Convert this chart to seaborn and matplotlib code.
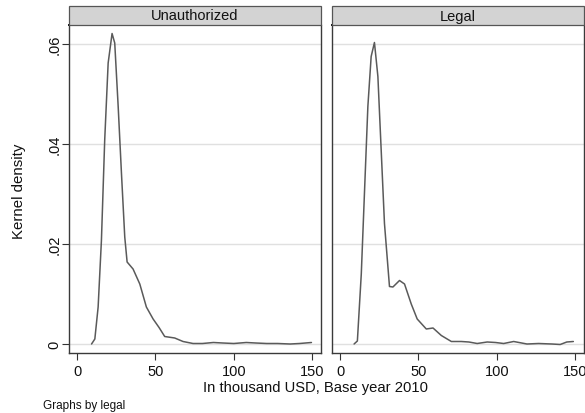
import numpy as np
import pandas as pd
import matplotlib
matplotlib.use("Agg")
import matplotlib.pyplot as plt
import seaborn as sns
from matplotlib.patches import Rectangle

# ---- data ----
panels = ["Unauthorized", "Legal"]

unauth_x = [9.2, 11.3, 13.4, 15.5, 17.6, 19.8, 22.3, 24.0, 26.2, 28.3, 30.4, 31.9,
            35.7, 40.0, 44.2, 48.5, 52.3, 55.9, 62.3, 67.6, 74, 80, 87, 93, 100,
            108, 114, 121, 128, 136, 142, 149.6]
unauth_y = [0.0000, 0.0010, 0.0074, 0.0207, 0.0408, 0.0562, 0.0621, 0.0602, 0.0475,
            0.0341, 0.0214, 0.0164, 0.0150, 0.0120, 0.0074, 0.0050, 0.0033, 0.0015,
            0.0012, 0.0005, 0.0001, 0.0001, 0.0003, 0.0002, 0.0001, 0.0003, 0.0002,
            0.0001, 0.0001, 0.0000, 0.0001, 0.0003]

legal_x = [8.9, 11.0, 13.5, 15.6, 17.7, 19.8, 21.9, 24.1, 26.2, 28.3, 31.5, 33.7,
           37.9, 41.1, 45.4, 49.2, 55.0, 59.3, 64.6, 71.0, 77.3, 82.2, 87.5, 93.9,
           99.2, 104.4, 110.8, 119.3, 126.7, 135.2, 140.5, 144.7, 148.9]
legal_y = [0.0000, 0.0006, 0.0140, 0.0308, 0.0475, 0.0575, 0.0603, 0.0535, 0.0388,
           0.0241, 0.0115, 0.0114, 0.0127, 0.0120, 0.0080, 0.0050, 0.0030, 0.0032,
           0.0017, 0.0005, 0.0005, 0.0004, 0.0001, 0.0004, 0.0003, 0.0001, 0.0005,
           0.0000, 0.0001, 0.0000, -0.0001, 0.0004, 0.0005]

x_ticks = [0, 50, 100, 150]
y_ticks = [0, 0.02, 0.04, 0.06]
y_ticklabels = ["0", ".02", ".04", ".06"]

df = pd.DataFrame({
    "income": unauth_x + legal_x,
    "density": unauth_y + legal_y,
    "legal": ["Unauthorized"] * len(unauth_x) + ["Legal"] * len(legal_x),
})

sns.set_theme(style="white")
plt.rcParams["font.family"] = ["Liberation Sans", "DejaVu Sans"]

g = sns.FacetGrid(df, col="legal", col_order=panels, sharex=True, sharey=True,
                  height=3.3, aspect=0.8, despine=False)
g.map_dataframe(sns.lineplot, x="income", y="density", color="#5a5a5a",
                linewidth=1.1, estimator=None, sort=False)

fig = g.figure
fig.set_size_inches(5.85, 4.14)
fig.subplots_adjust(left=69/585, right=584/585, bottom=1-354/414, top=1-26/414,
                    wspace=11/252)

ax_h_px = 354 - 26
for ax, name in zip(g.axes.flat, panels):
    ax.set_xlim(-5.2, 155.7)
    ax.set_ylim(-0.0018, 0.0638)
    ax.set_title("")
    ax.set_xlabel("")
    ax.set_ylabel("")
    ax.set_xticks(x_ticks)
    ax.set_xticklabels([str(t) for t in x_ticks], fontsize=10.5, color="#111111")
    ax.set_yticks(y_ticks)
    for yv in y_ticks:
        ax.axhline(yv, color="#e0e0e0", linewidth=1.0, zorder=0)
    ax.tick_params(axis="x", direction="out", length=5, width=0.8, color="#333333",
                   pad=3, bottom=True)
    for s in ["left", "right", "bottom"]:
        ax.spines[s].set_color("#3a3a3a")
        ax.spines[s].set_linewidth(1.0)
    ax.spines["top"].set_color("#111111")
    ax.spines["top"].set_linewidth(1.4)
    # strip
    strip_h = 19 / ax_h_px
    ax.add_patch(Rectangle((0, 1), 1, strip_h, transform=ax.transAxes,
                           facecolor="#d3d3d3", edgecolor="#555555", linewidth=0.9,
                           clip_on=False, zorder=3))
    ax.text(0.5, 1 + strip_h / 2, name, transform=ax.transAxes, ha="center",
            va="center", fontsize=10.5, color="#111111", zorder=4)

ax0 = g.axes.flat[0]
ax0.set_yticklabels(y_ticklabels, fontsize=10.5, rotation=90, va="center",
                    color="#111111")
ax0.tick_params(axis="y", direction="out", length=5, width=0.8, color="#333333",
                pad=0.5, left=True)
ax1 = g.axes.flat[1]
ax1.tick_params(axis="y", left=False, labelleft=False)

fig.text(315.3/585, 1-388/414, "In thousand USD, Base year 2010", ha="center",
         va="center", fontsize=10.6, color="#111111")
fig.text(19/585, 1-191/414, "Kernel density", ha="center", va="center",
         rotation=90, fontsize=10.8, color="#111111")
fig.text(43/585, 1-406/414, "Graphs by legal", ha="left", va="center",
         fontsize=8.5, color="#111111")

fig.savefig("out.png", dpi=100, facecolor="white")
